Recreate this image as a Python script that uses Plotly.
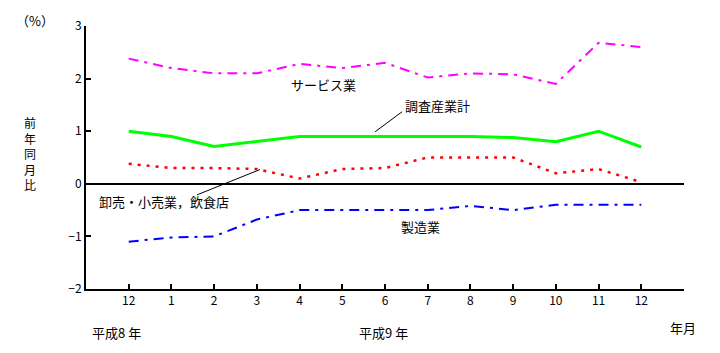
import plotly.graph_objects as go

months = ["12", "1", "2", "3", "4", "5", "6", "7", "8", "9", "10", "11", "12"]
service = [2.38, 2.2, 2.1, 2.1, 2.28, 2.2, 2.3, 2.02, 2.1, 2.08, 1.9, 2.68, 2.6]
total = [1.0, 0.9, 0.71, 0.8, 0.9, 0.9, 0.9, 0.9, 0.9, 0.88, 0.8, 1.0, 0.7]
wholesale = [0.38, 0.3, 0.3, 0.28, 0.1, 0.28, 0.3, 0.5, 0.5, 0.5, 0.2, 0.28, 0.03]
manufacturing = [-1.1, -1.02, -1.0, -0.68, -0.5, -0.5, -0.5, -0.5, -0.42, -0.5, -0.4, -0.4, -0.4]
yticks = [3, 2, 1, 0, -1, -2]
ytick_text = ["3", "2", "1", "0", "−1", "−2"]

xs = list(range(len(months)))
FONT = "Noto Sans CJK JP"

fig = go.Figure()
fig.add_trace(go.Scatter(x=xs, y=service, mode="lines",
                         line=dict(color="#ff00ff", width=2, dash="10px,6px,3px,6px")))
fig.add_trace(go.Scatter(x=xs, y=total, mode="lines",
                         line=dict(color="#00ff00", width=3)))
fig.add_trace(go.Scatter(x=xs, y=wholesale, mode="lines",
                         line=dict(color="#ff0000", width=2.5, dash="3px,6px")))
fig.add_trace(go.Scatter(x=xs, y=manufacturing, mode="lines",
                         line=dict(color="#0000ff", width=2, dash="10px,6px,3px,6px")))

fig.update_layout(
    width=720, height=353,
    margin=dict(l=86, r=36, t=26, b=64),
    paper_bgcolor="white", plot_bgcolor="white",
    showlegend=False,
    font=dict(family=FONT, size=12, color="black"),
    xaxis=dict(range=[-1, 13], tickvals=xs + [13], ticktext=months + [""],
               showgrid=False, zeroline=False, showline=True, linecolor="black",
               linewidth=2, ticks="inside", ticklen=5, tickwidth=2, tickcolor="black",
               tickfont=dict(family=FONT, size=12), fixedrange=True),
    yaxis=dict(range=[-2, 3], tickvals=yticks, ticktext=ytick_text,
               showgrid=False, zeroline=True, zerolinecolor="black", zerolinewidth=2,
               showline=True, linecolor="black", linewidth=2,
               ticks="inside", ticklen=5, tickwidth=2, tickcolor="black",
               tickfont=dict(family=FONT, size=12), fixedrange=True),
)

def ann(text, x, y, xref="x", yref="y", xanchor="center", size=13):
    fig.add_annotation(text=text, x=x, y=y, xref=xref, yref=yref, showarrow=False,
                       xanchor=xanchor, yanchor="middle",
                       font=dict(family=FONT, size=size, color="black"))

ann("サービス業", 4.55, 1.88)
ann("調査産業計", 7.22, 1.48)
ann("卸売・小売業，飲食店", 0.83, -0.34)
ann("製造業", 6.84, -0.82)

# leader lines
fig.add_shape(type="line", x0=5.77, y0=0.99, x1=6.40, y1=1.37, line=dict(color="black", width=1))
fig.add_shape(type="line", x0=1.60, y0=-0.21, x1=3.07, y1=0.27, line=dict(color="black", width=1))

def px(xp):
    return (xp - 86) / 598.0

def py(yp):
    return (289 - yp) / 263.0

ann("（%）", px(35), py(20), xref="paper", yref="paper", size=13)
ann("前<br>年<br>同<br>月<br>比", px(30), py(153), xref="paper", yref="paper", size=12)
ann("平成8 年", px(116), py(332), xref="paper", yref="paper")
ann("平成9 年", px(383), py(332), xref="paper", yref="paper")
ann("年月", px(683), py(327), xref="paper", yref="paper")

fig.write_html("out.html")
